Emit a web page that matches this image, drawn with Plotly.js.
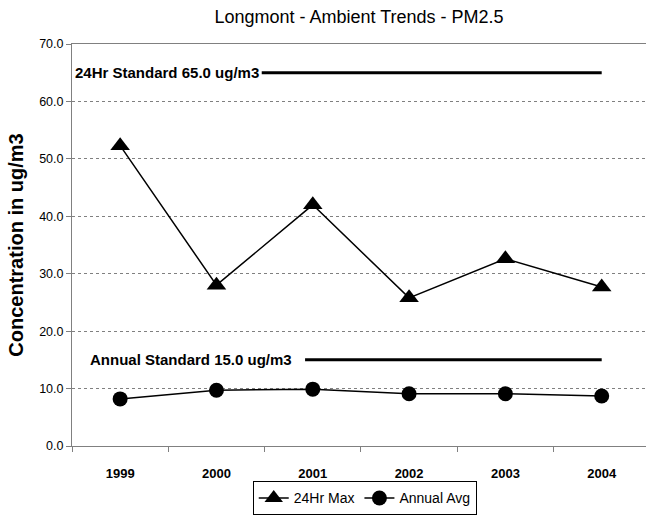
<!DOCTYPE html>
<html>
<head>
<meta charset="utf-8">
<script src="https://cdn.plot.ly/plotly-3.0.1.min.js"></script>
<style>html,body{margin:0;padding:0;background:#fff;}#chart{width:646px;height:518px;}</style>
</head>
<body>
<div id="chart"></div>
<script>
// ---- data ----
var years = ['1999', '2000', '2001', '2002', '2003', '2004'];
var max24hr = [52.3, 28.0, 42.0, 25.8, 32.6, 27.7];
var annualAvg = [8.2, 9.7, 9.9, 9.1, 9.1, 8.7];
var seriesNames = ['24Hr Max', 'Annual Avg'];
var standardValues = [65.0, 15.0];
var standardLabels = ['24Hr Standard 65.0 ug/m3', 'Annual Standard 15.0 ug/m3'];
var yTicks = [0, 10, 20, 30, 40, 50, 60, 70];

var FONT = 'Liberation Sans, Arial, sans-serif';

var traces = [
  {
    x: years, y: max24hr, name: seriesNames[0], type: 'scatter', mode: 'lines+markers',
    line: {color: '#000', width: 1.5},
    marker: {symbol: 'triangle-up', size: 17, color: '#000'}
  },
  {
    x: years, y: annualAvg, name: seriesNames[1], type: 'scatter', mode: 'lines+markers',
    line: {color: '#000', width: 1.5},
    marker: {symbol: 'circle', size: 15, color: '#000'}
  }
];

var lineStarts = [1.47, 1.92];
var labelStarts = [-0.49, -0.33];
var shapes = standardValues.map(function (v, i) {
  return {type: 'line', xref: 'x', yref: 'y', x0: lineStarts[i], x1: years.length - 1, y0: v, y1: v,
          line: {color: '#000', width: 3}};
});
var annotations = standardValues.map(function (v, i) {
  return {xref: 'x', yref: 'y', x: labelStarts[i], y: v, text: standardLabels[i], showarrow: false,
          xanchor: 'left', yanchor: 'middle', font: {family: FONT, size: 15, color: '#000', weight: 'bold'}};
});

var layout = {
  width: 646, height: 518,
  margin: {l: 72, r: 0, t: 44, b: 72},
  paper_bgcolor: '#fff', plot_bgcolor: '#fff',
  title: {text: 'Longmont - Ambient Trends - PM2.5', font: {family: FONT, size: 18, color: '#000'},
          x: 0.5, xref: 'paper', y: 0.967, yanchor: 'middle'},
  xaxis: {
    type: 'category', range: [-0.5, 5.46],
    showgrid: false, zeroline: false,
    showline: true, linecolor: '#808080', linewidth: 1, mirror: true,
    ticks: 'outside', ticklen: 5, tickcolor: '#808080', tickson: 'boundaries',
    tickfont: {family: FONT, size: 13, color: '#000', weight: 'bold'},
    ticklabelstandoff: 15
  },
  yaxis: {
    range: [0, 70], tickvals: yTicks, ticktext: yTicks.map(function (t) { return t.toFixed(1); }),
    showgrid: true, gridcolor: '#808080', griddash: 'dot', gridwidth: 1,
    zeroline: false, showline: true, linecolor: '#808080', linewidth: 1,
    ticks: 'outside', ticklen: 5, tickcolor: '#808080',
    tickfont: {family: FONT, size: 12.5, color: '#000'},
    title: {text: 'Concentration in ug/m3', font: {family: FONT, size: 20, color: '#000', weight: 'bold'}, standoff: 10}
  },
  showlegend: true,
  legend: {
    orientation: 'h', x: 0.51, xanchor: 'center', y: -0.088, yanchor: 'top',
    bordercolor: '#000', borderwidth: 1, bgcolor: '#fff',
    font: {family: FONT, size: 14, color: '#000'},
    itemwidth: 30, tracegroupgap: 0
  },
  shapes: shapes,
  annotations: annotations
};

Plotly.newPlot('chart', traces, layout, {displayModeBar: false, staticPlot: true});
</script>
</body>
</html>
